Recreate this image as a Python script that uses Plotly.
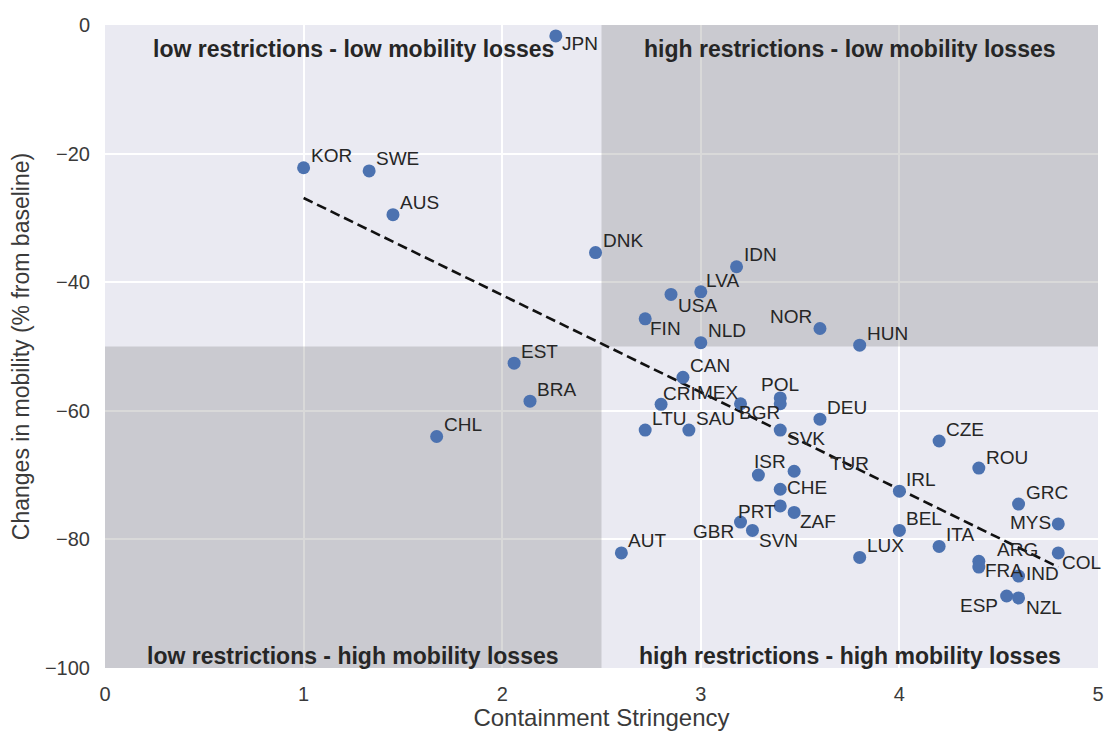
import plotly.graph_objects as go

# ---------------- data ----------------
countries = ["JPN", "KOR", "SWE", "AUS", "DNK", "IDN", "LVA", "USA", "FIN", "NLD",
             "NOR", "HUN", "EST", "CAN", "BRA", "CRI", "MEX", "POL", "BGR", "SVK",
             "DEU", "LTU", "SAU", "CHL", "CZE", "ROU", "ISR", "TUR", "IRL", "CHE",
             "GRC", "PRT", "ZAF", "MYS", "GBR", "SVN", "BEL", "AUT", "ITA", "LUX",
             "ARG", "FRA", "COL", "IND", "ESP", "NZL"]
stringency = [2.27, 1.00, 1.33, 1.45, 2.47, 3.18, 3.00, 2.85, 2.72, 3.00,
              3.60, 3.80, 2.06, 2.91, 2.14, 2.80, 3.20, 3.40, 3.40, 3.40,
              3.60, 2.72, 2.94, 1.67, 4.20, 4.40, 3.29, 3.47, 4.00, 3.40,
              4.60, 3.40, 3.47, 4.80, 3.20, 3.26, 4.00, 2.60, 4.20, 3.80,
              4.40, 4.40, 4.80, 4.60, 4.54, 4.60]
mobility = [-1.7, -22.2, -22.7, -29.5, -35.4, -37.6, -41.5, -41.9, -45.7, -49.4,
            -47.2, -49.8, -52.6, -54.8, -58.5, -59.0, -58.9, -58.0, -58.9, -63.0,
            -61.3, -63.0, -63.0, -64.0, -64.7, -68.9, -70.0, -69.4, -72.5, -72.2,
            -74.5, -74.8, -75.8, -77.6, -77.3, -78.6, -78.6, -82.1, -81.1, -82.8,
            -83.4, -84.3, -82.1, -85.7, -88.8, -89.1]

trend_x = [1.0, 4.8]
trend_y = [-26.9, -84.3]

x_ticks = [0, 1, 2, 3, 4, 5]
x_tick_text = ["0", "1", "2", "3", "4", "5"]
y_ticks = [-100, -80, -60, -40, -20, 0]
y_tick_text = ["\u2212100", "\u221280", "\u221260", "\u221240", "\u221220", "0"]

quadrant_labels = ["low restrictions - low mobility losses",
                   "high restrictions - low mobility losses",
                   "low restrictions - high mobility losses",
                   "high restrictions - high mobility losses"]

# label placement (anchor, x shift px, y shift px down)
label_pos = {
    "JPN": ("left", 4, 8), "USA": ("left", 5, 11), "FIN": ("left", 3, 10),
    "NOR": ("right", -6, -12), "MEX": ("right", 0, -11), "POL": ("center", 0, -13),
    "BGR": ("right", 2, 9), "SVK": ("left", 5, 8), "ISR": ("left", -6, -14),
    "TUR": ("left", 34, -8), "CHE": ("left", 5, -2), "PRT": ("right", -2, 6),
    "ZAF": ("left", 4, 9), "GBR": ("right", -5, 9), "SVN": ("left", 5, 10),
    "MYS": ("right", -5, -1), "ARG": ("left", 16, -12), "FRA": ("left", 4, 3),
    "IND": ("left", 5, -3), "COL": ("left", 2, 10), "ESP": ("right", -7, 10),
    "NZL": ("left", 5, 10), "ROU": ("left", 5, -11), "LVA": ("left", 3, -11),
    "CRI": ("left", 0, -11),
}

FONT = "Liberation Sans, Arial, sans-serif"
TXT = "#262626"
AX = "#3a3a3a"

fig = go.Figure()

fig.add_trace(go.Scatter(
    x=trend_x, y=trend_y, mode="lines",
    line=dict(color="#111111", width=2.6, dash="10px,5px"),
    hoverinfo="skip", showlegend=False))

fig.add_trace(go.Scatter(
    x=stringency, y=mobility, mode="markers",
    marker=dict(color="#4C72B0", size=13, line=dict(width=0)),
    text=countries, showlegend=False))

# quadrant shading
fig.add_shape(type="rect", x0=2.5, x1=5, y0=-50, y1=0, xref="x", yref="y",
              fillcolor="rgba(128,128,128,0.30)", line=dict(width=0), layer="between")
fig.add_shape(type="rect", x0=0, x1=2.5, y0=-100, y1=-50, xref="x", yref="y",
              fillcolor="rgba(128,128,128,0.30)", line=dict(width=0), layer="between")

# quadrant labels
q_pos = [(1.25, -3.7), (3.75, -3.7), (1.25, -98.1), (3.75, -98.1)]
for lab, (qx, qy) in zip(quadrant_labels, q_pos):
    fig.add_annotation(x=qx, y=qy, text="<b>" + lab + "</b>", showarrow=False,
                       xanchor="center", yanchor="middle",
                       font=dict(family=FONT, size=23, color=TXT))

# country labels
for c, xv, yv in zip(countries, stringency, mobility):
    anchor, dx, dy = label_pos.get(c, ("left", 5, -12))
    fig.add_annotation(x=xv, y=yv, text=c, showarrow=False,
                       xanchor=anchor, yanchor="middle",
                       xshift=dx, yshift=-dy,
                       font=dict(family=FONT, size=19, color=TXT))

fig.update_layout(
    width=1105, height=731,
    margin=dict(l=105, r=7, t=25, b=63),
    paper_bgcolor="white", plot_bgcolor="#EAEAF2",
    font=dict(family=FONT, color=AX),
    xaxis=dict(range=[0, 5], tickvals=x_ticks, ticktext=x_tick_text,
               showgrid=True, gridcolor="white",
               gridwidth=1.5, zeroline=False, showline=False, automargin=False,
               ticklabeloverflow="allow",
               tickfont=dict(size=20, color=AX), ticklabelstandoff=12,
               title=dict(text="Containment Stringency",
                          font=dict(size=24, color=AX), standoff=9)),
    yaxis=dict(range=[-100, 0], tickvals=y_ticks, ticktext=y_tick_text,
               showgrid=True, gridcolor="white",
               gridwidth=1.5, zeroline=False, showline=False, automargin=False,
               ticklabeloverflow="allow",
               tickfont=dict(size=20, color=AX), ticklabelstandoff=14,
               title=dict(text="Changes in mobility (% from baseline)",
                          font=dict(size=23, color=AX), standoff=8)),
)

# remove the default page margin so the figure fills the window exactly
fig.write_html("out.html",
               config={"displayModeBar": False},
               post_script="document.body.style.margin='0';"
                           "document.body.style.overflow='hidden';")
